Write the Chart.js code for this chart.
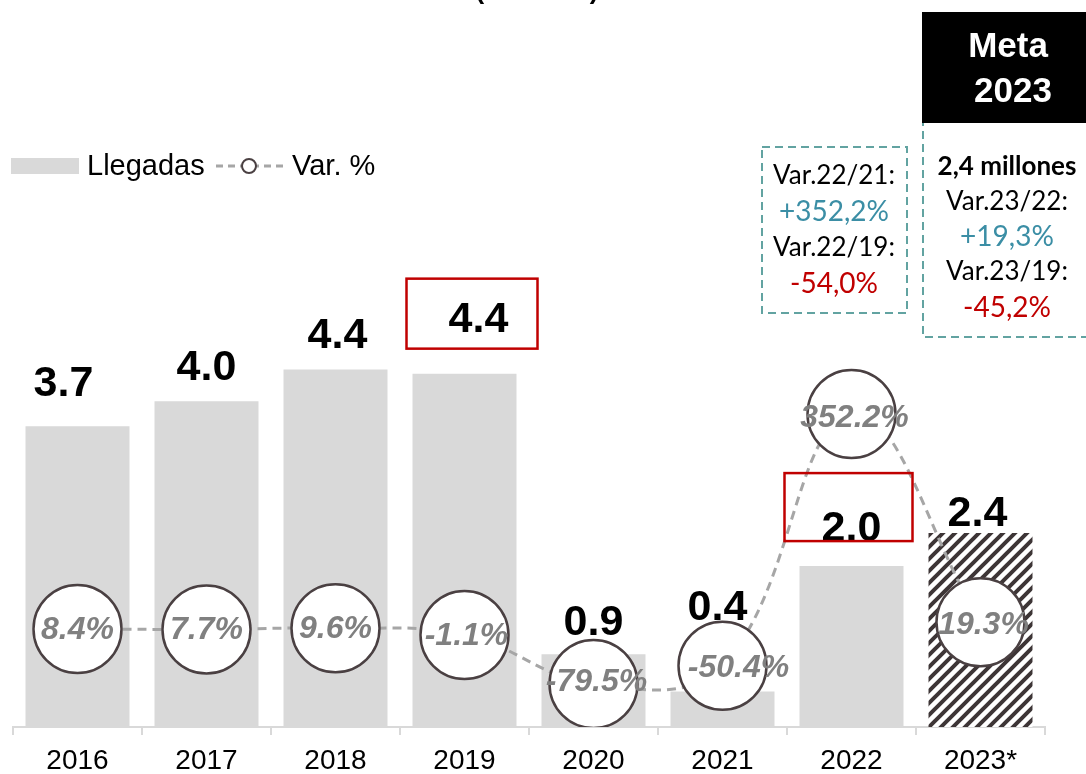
<!DOCTYPE html>
<html>
<head>
<meta charset="utf-8">
<script src="https://cdn.jsdelivr.net/npm/chart.js@4.4.1/dist/chart.umd.min.js"></script>
<style>
  html, body { margin: 0; padding: 0; background: #ffffff; }
  #wrap { width: 1086px; height: 774px; position: relative; }
</style>
</head>
<body>
<div id="wrap"><canvas id="c" width="1086" height="774"></canvas></div>
<script>
// ---- data ----
const categories = ['2016', '2017', '2018', '2019', '2020', '2021', '2022', '2023*'];
const llegadas = [3.72, 4.03, 4.42, 4.37, 0.90, 0.44, 1.99, 2.40];
const varPct = [8.4, 7.7, 9.6, -1.1, -79.5, -50.4, 352.2, 19.3];
const titleText = '(millones)';
const legendLabels = ['Llegadas', 'Var. %'];
const box1Lines = ['Var.22/21:', '+352,2%', 'Var.22/19:', '-54,0%'];
const box2Lines = ['2,4 millones', 'Var.23/22:', '+19,3%', 'Var.23/19:', '-45,2%'];
const metaLines = ['Meta', '2023'];
const highlighted = ['2019', '2022'];

// ---- styling ----
const ARIAL = '"Liberation Sans", Arial, sans-serif';
const CAL = 'Lato, "Open Sans", sans-serif';
const BAR_GREY = '#d9d9d9';
const LINE_GREY = '#a6a6a6';
const CIRCLE_EDGE = '#4a4042';
const TEAL = '#3b8ea5';
const RED = '#c00000';
const BOX_EDGE = '#62a3a1';

const ctx0 = document.getElementById('c').getContext('2d');
function makeHatch() {
  const s = 12;
  const c = document.createElement('canvas');
  c.width = s; c.height = s;
  const g = c.getContext('2d');
  g.fillStyle = '#ffffff';
  g.fillRect(0, 0, s, s);
  g.strokeStyle = '#3d3536';
  g.lineWidth = 4;
  g.beginPath();
  g.moveTo(-4, s + 4); g.lineTo(s + 4, -4);
  g.moveTo(-4, 4); g.lineTo(4, -4);
  g.moveTo(s - 4, s + 4); g.lineTo(s + 4, s - 4);
  g.stroke();
  return ctx0.createPattern(c, 'repeat');
}
const hatch = makeHatch();
const barColors = categories.map(c => c === '2023*' ? hatch : BAR_GREY);

// label nudges (pixels) relative to default position above each bar
const barLabelNudge = [[-14, -9], [0, 0], [2, 0], [14, -21], [0, 2], [-5, -50], [0, -4], [-3, 14]];
const pctLabelNudge = [[0, 0], [0, 0], [0, 0], [2, 0], [3, -3], [16, 1], [3, 3], [3, 2]];

const overlay = {
  id: 'overlay',
  afterDatasetsDraw(chart) {
    const ctx = chart.ctx;
    const xs = chart.scales.x, ys = chart.scales.y;
    const lineMeta = chart.getDatasetMeta(0);
    ctx.save();
    // bar value labels
    ctx.font = 'bold 43px ' + ARIAL;
    ctx.fillStyle = '#000000';
    ctx.textAlign = 'center';
    ctx.textBaseline = 'middle';
    const labelPos = [];
    llegadas.forEach((v, i) => {
      const x = xs.getPixelForValue(i) + barLabelNudge[i][0];
      const y = ys.getPixelForValue(v) - 35 + barLabelNudge[i][1];
      labelPos.push([x, y]);
      ctx.fillText(v.toFixed(1), x, y + 2);
    });
    // red highlight boxes
    ctx.strokeStyle = RED;
    ctx.lineWidth = 2.5;
    categories.forEach((c, i) => {
      if (!highlighted.includes(c)) return;
      const [x, y] = labelPos[i];
      if (c === '2019') ctx.strokeRect(x - 72, y - 39, 131, 70);
      else ctx.strokeRect(x - 67, y - 54, 128, 68);
    });
    // percentage labels in circles
    ctx.font = 'italic bold 32px ' + ARIAL;
    ctx.fillStyle = '#808080';
    lineMeta.data.forEach((pt, i) => {
      ctx.fillText(varPct[i].toFixed(1) + '%', pt.x + pctLabelNudge[i][0], pt.y + pctLabelNudge[i][1] + 1);
    });
    ctx.restore();
  },
  afterDraw(chart) {
    const ctx = chart.ctx;
    ctx.save();
    // partial title (cut at top)
    ctx.font = 'bold 26px ' + ARIAL;
    ctx.fillStyle = '#000';
    ctx.textAlign = 'center';
    ctx.textBaseline = 'alphabetic';
    ctx.fillText(titleText, 537, -1);

    // legend
    ctx.fillStyle = BAR_GREY;
    ctx.fillRect(11, 158, 68, 16);
    ctx.font = '29px ' + ARIAL;
    ctx.fillStyle = '#000';
    ctx.textAlign = 'left';
    ctx.textBaseline = 'middle';
    ctx.fillText(legendLabels[0], 87, 167);
    ctx.strokeStyle = LINE_GREY;
    ctx.lineWidth = 3;
    ctx.setLineDash([7, 5]);
    ctx.beginPath(); ctx.moveTo(216, 166); ctx.lineTo(287, 166); ctx.stroke();
    ctx.setLineDash([]);
    ctx.beginPath(); ctx.arc(249, 166, 7, 0, Math.PI * 2);
    ctx.fillStyle = '#fff'; ctx.fill();
    ctx.strokeStyle = CIRCLE_EDGE; ctx.lineWidth = 2; ctx.stroke();
    ctx.fillStyle = '#000';
    ctx.fillText(legendLabels[1], 292, 167);

    // dashed box 1
    ctx.strokeStyle = BOX_EDGE;
    ctx.lineWidth = 2;
    ctx.setLineDash([8, 5]);
    ctx.strokeRect(762, 147, 145, 166);
    // dashed box 2 (extends under Meta box and off canvas)
    ctx.strokeRect(923, 90, 200, 247);
    ctx.setLineDash([]);

    ctx.textAlign = 'center';
    const colors1 = ['#000', TEAL, '#000', RED];
    const ys1 = [176, 212, 248, 284];
    box1Lines.forEach((t, i) => {
      ctx.font = (i % 2 === 1 ? '28px ' : '26px ') + CAL;
      ctx.fillStyle = colors1[i];
      ctx.fillText(t, 834, ys1[i]);
    });
    const colors2 = ['#000', '#000', TEAL, '#000', RED];
    const ys2 = [167, 202, 237, 272, 308];
    box2Lines.forEach((t, i) => {
      ctx.font = (i === 0 ? 'bold 26px ' : (i % 2 === 0 ? '28px ' : '26px ')) + CAL;
      ctx.fillStyle = colors2[i];
      ctx.fillText(t, 1007, ys2[i]);
    });

    // Meta 2023 box
    ctx.fillStyle = '#000';
    ctx.fillRect(922, 12, 170, 111);
    ctx.fillStyle = '#fff';
    ctx.font = 'bold 35px ' + ARIAL;
    ctx.fillText(metaLines[0], 1008, 47);
    ctx.fillText(metaLines[1], 1013, 92);
    ctx.restore();
  }
};

new Chart(document.getElementById('c'), {
  data: {
    labels: categories,
    datasets: [
      {
        type: 'line',
        label: legendLabels[1],
        data: varPct,
        yAxisID: 'y1',
        order: 0,
        borderColor: LINE_GREY,
        borderWidth: 3,
        borderDash: [9, 6],
        tension: 0.4,
        fill: false,
        pointRadius: 44,
        pointHoverRadius: 44,
        pointBackgroundColor: '#ffffff',
        pointBorderColor: CIRCLE_EDGE,
        pointBorderWidth: 2.5
      },
      {
        type: 'bar',
        label: legendLabels[0],
        data: llegadas,
        yAxisID: 'y',
        order: 1,
        backgroundColor: barColors,
        borderWidth: 0,
        categoryPercentage: 1.0,
        barPercentage: 0.806
      }
    ]
  },
  options: {
    responsive: false,
    animation: false,
    events: [],
    layout: { autoPadding: false, padding: { left: 13, right: 41, top: 199, bottom: 0 } },
    plugins: { legend: { display: false }, tooltip: { enabled: false }, title: { display: false } },
    scales: {
      x: {
        offset: true,
        grid: { display: true, drawOnChartArea: false, drawTicks: true, tickLength: 8, color: '#d9d9d9', lineWidth: 2, offset: true },
        border: { display: true, color: '#d9d9d9', width: 2 },
        ticks: { font: { family: ARIAL, size: 28 }, color: '#000', padding: 9, maxRotation: 0, autoSkip: false },
        afterFit(scale) {
          scale.height = 47;
        }
      },
      y: { display: false, min: 0, max: 6.53 },
      y1: { display: false, min: -148.3, max: 696 }
    }
  },
  plugins: [overlay]
});
</script>
</body>
</html>
